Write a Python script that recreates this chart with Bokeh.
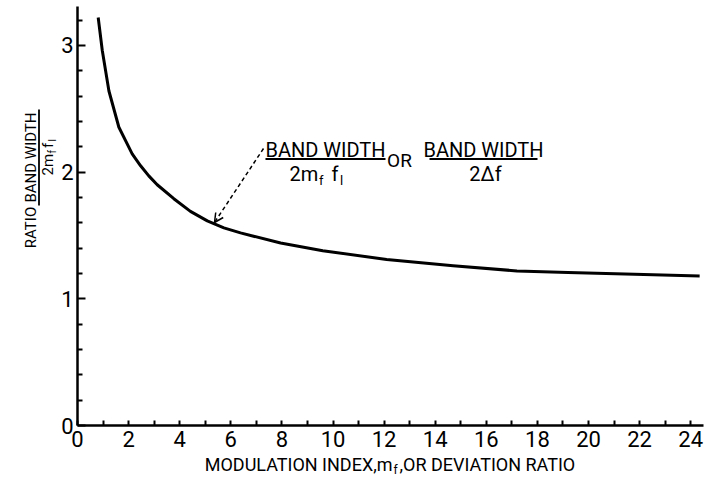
import math
from bokeh.plotting import figure
from bokeh.models import FixedTicker, Label, Arrow, OpenHead
from bokeh.embed import file_html
from bokeh.resources import INLINE

# ---- data ----
mod_index = [0.81, 0.97, 1.23, 1.62, 2.14, 2.47, 2.79, 3.12, 3.77, 4.42, 5.08, 5.73,
             6.38, 7.95, 9.6, 12.1, 14.7, 17.2, 19.2, 21.8, 24.35]
bw_ratio = [3.22, 2.96, 2.64, 2.354, 2.144, 2.05, 1.97, 1.90, 1.79, 1.69, 1.615, 1.56,
            1.52, 1.44, 1.38, 1.31, 1.26, 1.22, 1.207, 1.194, 1.18]
x_major = [0, 2, 4, 6, 8, 10, 12, 14, 16, 18, 20, 22, 24]
x_minor = [1, 3, 5, 7, 9, 11, 13, 15, 17, 19, 21, 23]
y_major = [0, 1, 2, 3]
y_minor = [0.2, 0.4, 0.6, 0.8, 1.2, 1.4, 1.6, 1.8, 2.2, 2.4, 2.6, 2.8, 3.2]

FONT = "Roboto"

# pixel -> data helpers (axes origin at pixel (77, 425))
PXU = 25.55
PYU = 126.7
def X(px):
    return (px - 77) / PXU
def Y(py):
    return (425 - py) / PYU

W, H = 708, 478
p = figure(width=W, height=H, x_range=(X(0), X(W)), y_range=(Y(H), Y(0)),
           min_border_left=0, min_border_right=0, min_border_top=0, min_border_bottom=0,
           output_backend="svg", toolbar_location=None)
p.outline_line_color = None
p.grid.visible = False
p.background_fill_color = "white"
p.border_fill_color = "white"

p.line(mod_index, bw_ratio, line_width=3, line_color="black", line_join="round")

for ax in (p.xaxis, p.yaxis):
    ax.fixed_location = 0
    ax.axis_line_width = 2.5
    ax.axis_line_color = "black"
    ax.major_tick_line_width = 2
    ax.minor_tick_line_width = 2
    ax.major_tick_line_color = "black"
    ax.minor_tick_line_color = "black"
    ax.major_tick_out = 0
    ax.minor_tick_out = 0
    ax.major_label_text_font = FONT
    ax.major_label_text_font_size = "22px"
    ax.major_label_text_color = "black"

p.xaxis.bounds = (0, X(703))
p.yaxis.bounds = (0, Y(6))
p.xaxis.ticker = FixedTicker(ticks=x_major, minor_ticks=x_minor)
p.yaxis.ticker = FixedTicker(ticks=y_major, minor_ticks=y_minor)
p.xaxis.major_tick_in = 5
p.xaxis.minor_tick_in = 5
p.yaxis.major_tick_in = 8
p.yaxis.minor_tick_in = 5
p.xaxis.major_label_standoff = 5
p.yaxis.major_label_standoff = 4

def lab(px, py, t, size, align="center", angle=0.0):
    p.add_layout(Label(x=X(px), y=Y(py), text=t, text_font=FONT, text_font_size=size,
                       text_align=align, text_baseline="middle", angle=angle,
                       text_color="black"))

# x-axis title with subscript
lab(392, 464, "MODULATION INDEX,m", "18px", align="right")
lab(393, 469, "f", "12px", align="left")
lab(399, 464, ",OR DEVIATION RATIO", "18px", align="left")

# y-axis title (rotated, reads bottom to top)
R = math.pi / 2
lab(30, 227, "RATIO", "15px", align="center", angle=R)
lab(30, 157, "BAND WIDTH", "15px", align="center", angle=R)
p.segment(x0=[X(38.5)], y0=[Y(109)], x1=[X(38.5)], y1=[Y(205)], line_width=1.8, line_color="black")
lab(47.5, 175, "2m", "15px", align="left", angle=R)
lab(52, 153, "f", "10px", align="left", angle=R)
lab(47.5, 147.5, "f", "15px", align="left", angle=R)
lab(52, 141, "l", "10px", align="left", angle=R)

# annotation
lab(325, 149.5, "BAND WIDTH", "20px")
p.segment(x0=[X(265)], y0=[Y(158.5)], x1=[X(385)], y1=[Y(158.5)], line_width=2, line_color="black")
lab(289, 173.5, "2m", "20px", align="left")
lab(318.5, 180, "f", "13px", align="left")
lab(331, 173.5, "f", "20px", align="left")
lab(339.5, 180, "l", "13px", align="left")
lab(399, 160, "OR", "19px")
lab(483, 149.5, "BAND WIDTH", "20px")
p.segment(x0=[X(429)], y0=[Y(158.5)], x1=[X(537)], y1=[Y(158.5)], line_width=2, line_color="black")
lab(485, 173.5, "2Δf", "20px")

p.add_layout(Arrow(x_start=X(263), y_start=Y(148), x_end=X(214), y_end=Y(222),
                   line_width=1.5, line_dash="4 3", line_color="black",
                   end=OpenHead(size=9, line_width=1.5, line_color="black")))

open("out.html", "w").write(file_html(p, INLINE))
